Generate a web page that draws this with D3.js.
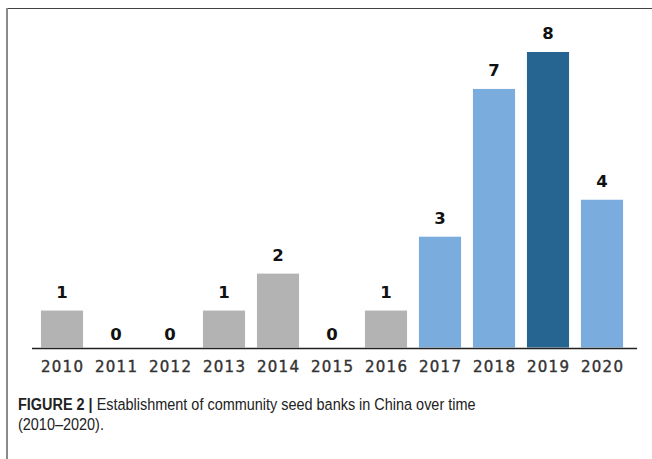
<!DOCTYPE html>
<html>
<head>
<meta charset="utf-8">
<script src="https://cdn.jsdelivr.net/npm/d3@7"></script>
<style>
  body { margin: 0; background: #fff; }
  svg { display: block; }
</style>
</head>
<body>
<div id="chart"></div>
<script>
// data
var years = ["2010","2011","2012","2013","2014","2015","2016","2017","2018","2019","2020"];
var counts = [1, 0, 0, 1, 2, 0, 1, 3, 7, 8, 4];
var groups = ["old","old","old","old","old","old","old","new","new","peak","new"];

var W = 652, H = 459;
var colors = {old: "#b3b3b3", new: "#7aaddd", peak: "#266491"};

var svg = d3.select("#chart").append("svg")
  .attr("width", W).attr("height", H);

// frame around the figure
svg.append("line").attr("x1", 6).attr("x2", W).attr("y1", 8.5).attr("y2", 8.5)
  .attr("stroke", "#444").attr("stroke-width", 1.2);
svg.append("line").attr("x1", 7).attr("x2", 7).attr("y1", 8).attr("y2", H)
  .attr("stroke", "#8a8a8a").attr("stroke-width", 2);

var baseY = 347.5;
var x = d3.scaleBand().domain(years).range([35, 629]).paddingInner(0.22).paddingOuter(0.11);
var y = d3.scaleLinear().domain([0, 8]).range([baseY, 52]);

var data = years.map(function(yr, i) { return {year: yr, v: counts[i], g: groups[i]}; });

svg.selectAll("rect.bar").data(data).enter().append("rect")
  .attr("class", "bar")
  .attr("x", function(d) { return x(d.year); })
  .attr("width", x.bandwidth())
  .attr("y", function(d) { return y(d.v); })
  .attr("height", function(d) { return baseY - y(d.v); })
  .attr("fill", function(d) { return colors[d.g]; });

// value labels
svg.selectAll("text.val").data(data).enter().append("text")
  .attr("class", "val")
  .attr("x", function(d) { return x(d.year) + x.bandwidth() / 2; })
  .attr("y", function(d) { return d.v == 0 ? baseY - 8 : y(d.v) - 13; })
  .attr("text-anchor", "middle")
  .style("font-family", "DejaVu Sans")
  .style("font-weight", "bold")
  .style("font-size", "16.5px")
  .style("fill", "#111")
  .text(function(d) { return d.v; });

// x axis
var axis = svg.append("g").attr("transform", "translate(0," + (baseY + 1) + ")")
  .call(d3.axisBottom(x).tickSize(0).tickPadding(13));
axis.select(".domain").attr("d", "M32,0H637").attr("stroke", "#222").attr("stroke-width", 1.6);
axis.selectAll("text")
  .attr("dx", "0.6px")
  .style("font-family", "DejaVu Sans")
  .style("font-size", "15px")
  .style("letter-spacing", "1.3px")
  .style("fill", "#333")
  .style("stroke", "#333")
  .style("stroke-width", "0.4px");

// caption, condensed a little like the journal's font
var capG = svg.append("g").attr("transform", "translate(18,0) scale(0.85,1)")
  .style("font-family", "'Liberation Sans', Arial")
  .style("font-size", "17px").style("fill", "#222");
var cap = capG.append("text").attr("x", 0).attr("y", 410);
cap.append("tspan").style("font-weight", "bold").text("FIGURE 2 | ");
cap.append("tspan").text("Establishment of community seed banks in China over time");
capG.append("text").attr("x", 0).attr("y", 430)
  .text("(2010\u20132020).");
</script>
</body>
</html>
